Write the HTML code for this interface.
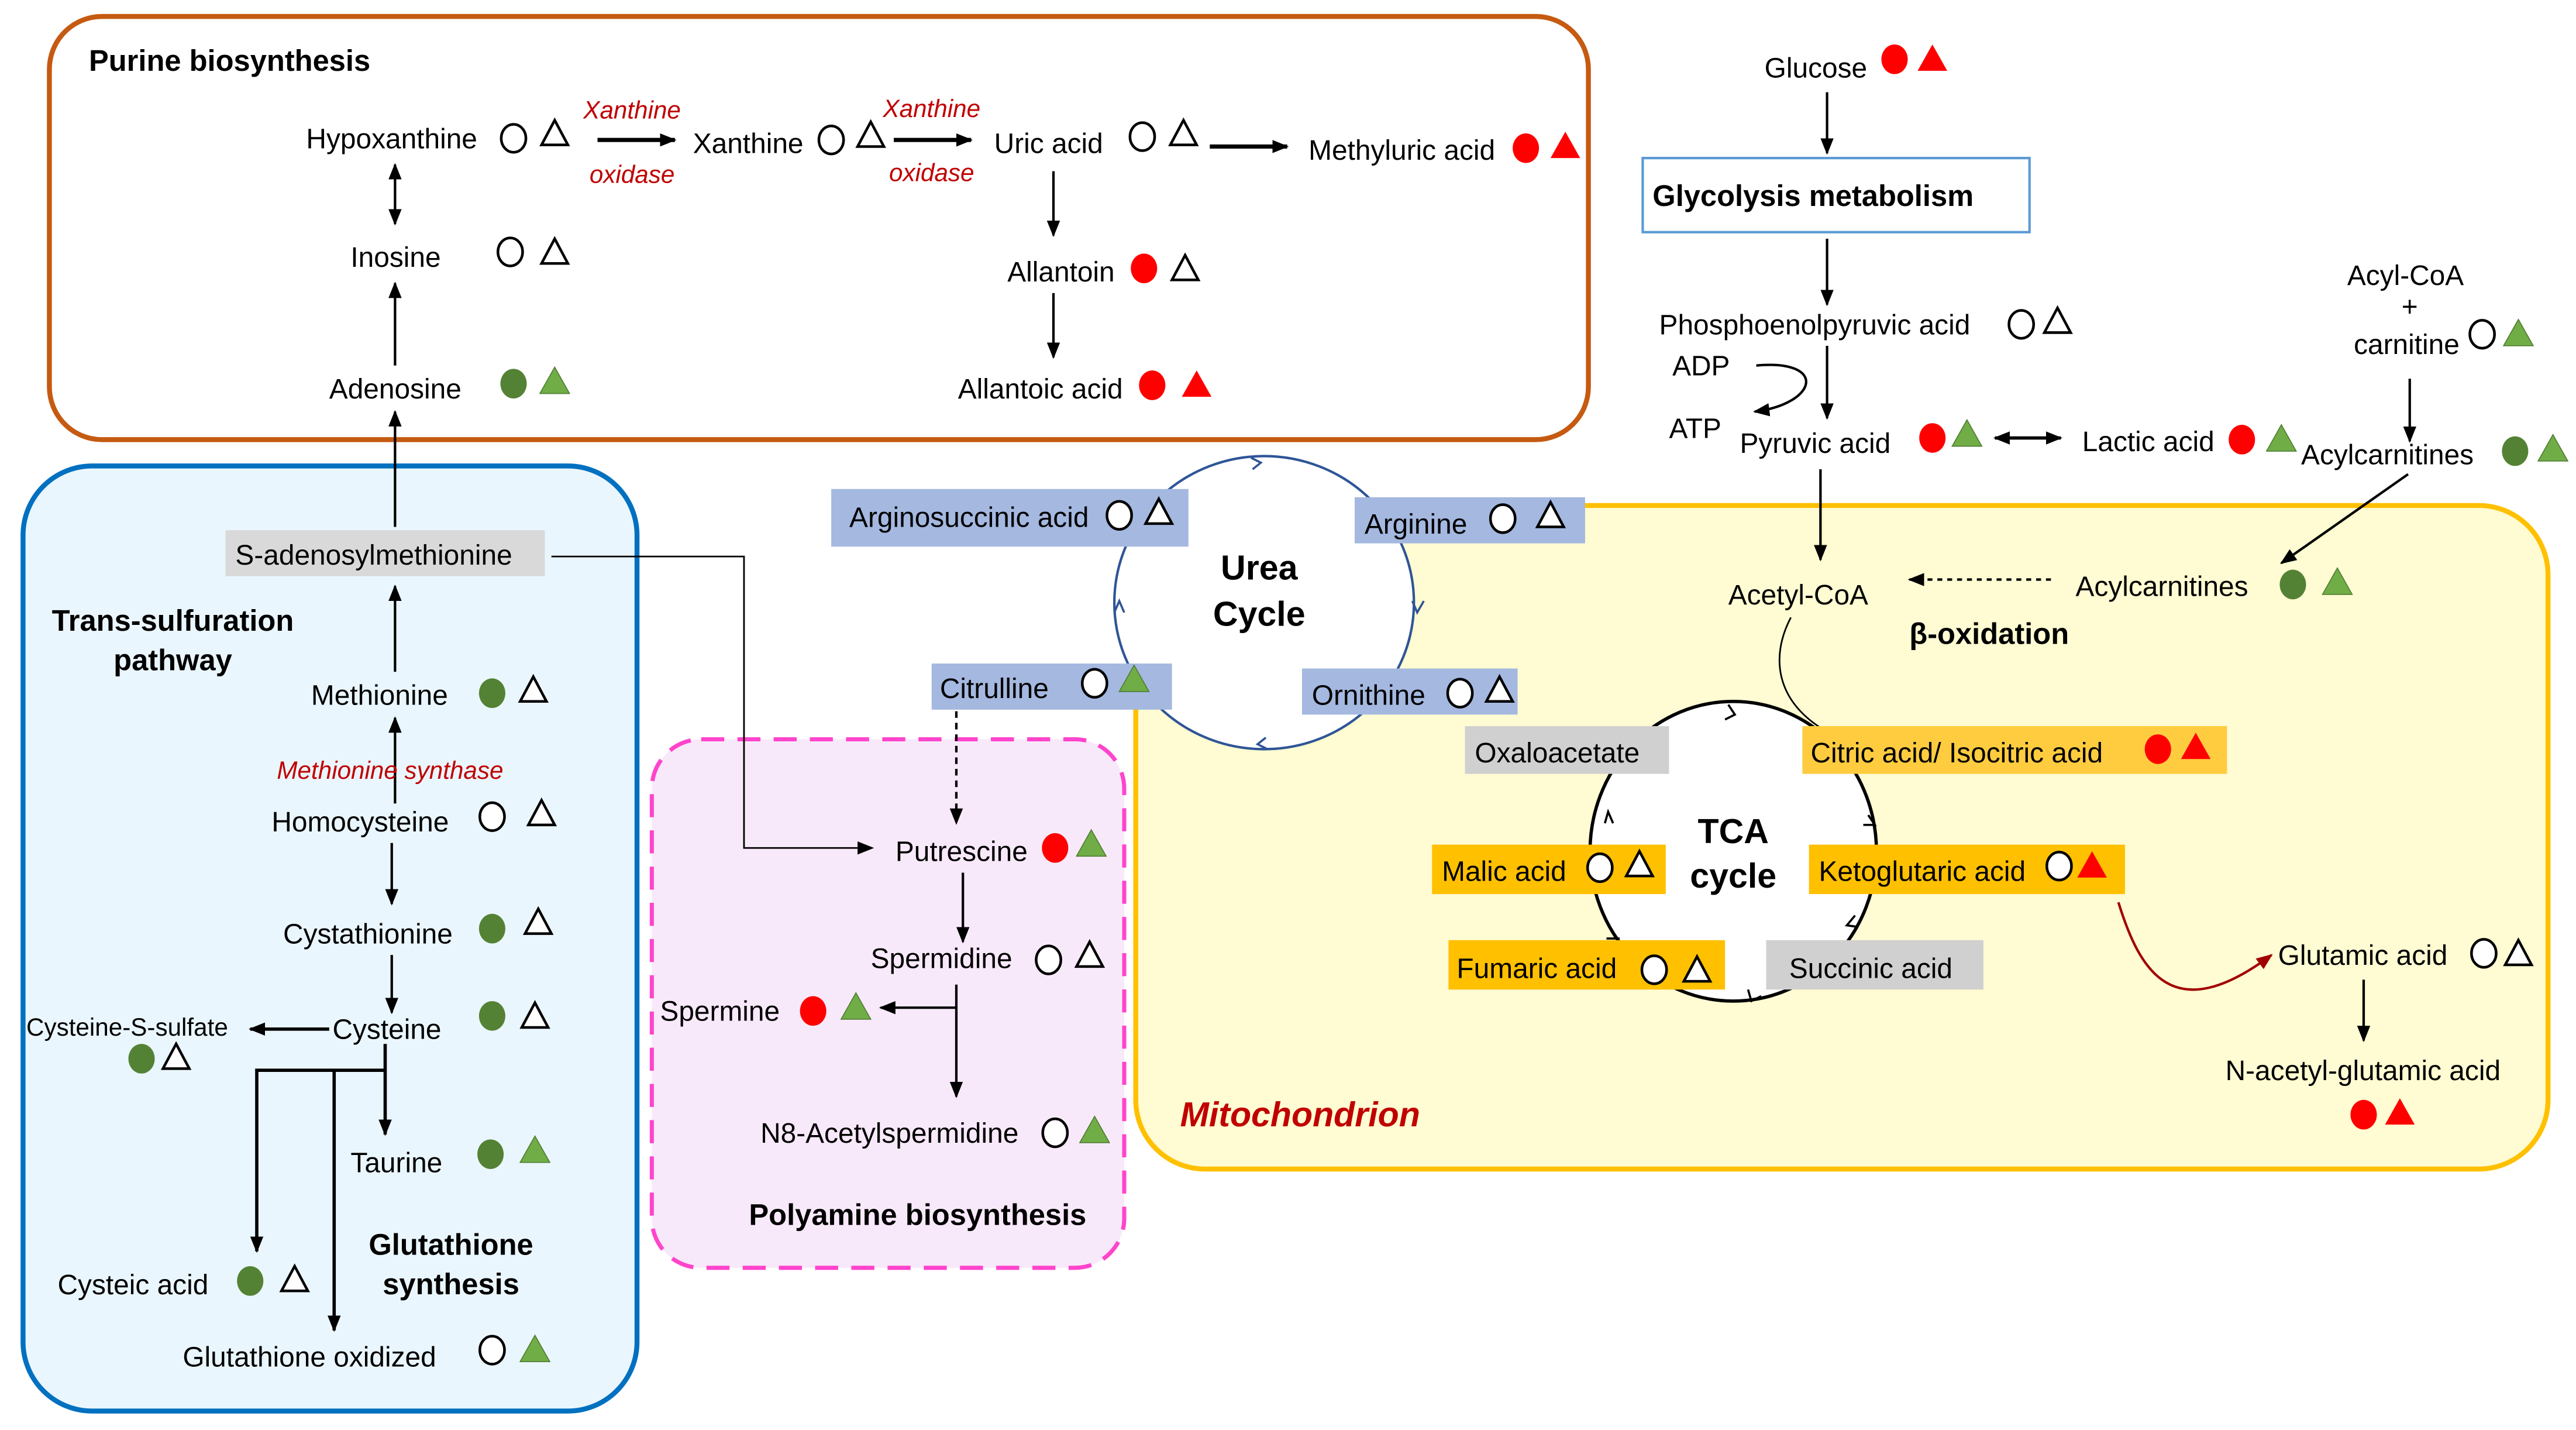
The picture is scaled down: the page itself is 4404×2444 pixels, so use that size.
<!DOCTYPE html>
<html><head><meta charset="utf-8"><style>
html,body{margin:0;padding:0;background:#fff;}
svg{display:block;}
text{font-family:"Liberation Sans",sans-serif;font-size:17px;fill:#000;}
.b{font-weight:bold;font-size:18px;}
.r{fill:#c00000;font-style:italic;font-size:15px;}
</style></head><body>
<svg width="4404" height="2444" viewBox="0 0 1565 868.5" xmlns="http://www.w3.org/2000/svg">
<defs>
<marker id="a" markerUnits="userSpaceOnUse" markerWidth="10" markerHeight="10" refX="9" refY="5" orient="auto"><path d="M0,1 L10,5 L0,9 z" fill="#000"/></marker>
<marker id="as" markerUnits="userSpaceOnUse" markerWidth="10" markerHeight="10" refX="1" refY="5" orient="auto"><path d="M10,1 L0,5 L10,9 z" fill="#000"/></marker>
<marker id="ar" markerUnits="userSpaceOnUse" markerWidth="10" markerHeight="10" refX="9" refY="5" orient="auto"><path d="M0,1 L10,5 L0,9 z" fill="#a00000"/></marker>
<g id="oc"><ellipse cx="0" cy="0" rx="7.5" ry="8.5" fill="#fff" stroke="#000" stroke-width="1.6"/></g>
<g id="gc"><ellipse cx="0" cy="0" rx="8" ry="9" fill="#548235"/></g>
<g id="rc"><ellipse cx="0" cy="0" rx="8" ry="9" fill="#ff0000"/></g>
<g id="ot"><path d="M0,-8 L8,7 L-8,7 z" fill="#fff" stroke="#000" stroke-width="1.6"/></g>
<g id="gt"><path d="M0,-9 L9,7 L-9,7 z" fill="#70ad47" stroke="#507e32" stroke-width="0.6"/></g>
<g id="rt"><path d="M0,-9 L9,7 L-9,7 z" fill="#ff0000"/></g>
</defs>

<!-- Purine box -->
<rect x="30" y="10" width="935" height="257" rx="32" fill="#fff" stroke="#c55a11" stroke-width="3"/>
<text x="54" y="43" class="b">Purine biosynthesis</text>
<text x="186" y="90">Hypoxanthine</text>
<use href="#oc" x="312" y="84"/><use href="#ot" x="337" y="81"/>
<line x1="363" y1="85" x2="410" y2="85" stroke="#000" stroke-width="2.5" marker-end="url(#a)"/>
<text x="384" y="72" class="r" text-anchor="middle">Xanthine</text>
<text x="384" y="111" class="r" text-anchor="middle">oxidase</text>
<text x="421" y="93">Xanthine</text>
<use href="#oc" x="505" y="85"/><use href="#ot" x="529" y="82"/>
<line x1="543" y1="85" x2="590" y2="85" stroke="#000" stroke-width="2.5" marker-end="url(#a)"/>
<text x="566" y="71" class="r" text-anchor="middle">Xanthine</text>
<text x="566" y="110" class="r" text-anchor="middle">oxidase</text>
<text x="604" y="93">Uric acid</text>
<use href="#oc" x="694" y="83"/><use href="#ot" x="719" y="81"/>
<line x1="735" y1="89" x2="782" y2="89" stroke="#000" stroke-width="2.5" marker-end="url(#a)"/>
<text x="795" y="97">Methyluric acid</text>
<use href="#rc" x="927" y="90"/><use href="#rt" x="951" y="89"/>
<line x1="240" y1="100" x2="240" y2="136" stroke="#000" stroke-width="1.5" marker-end="url(#a)" marker-start="url(#as)"/>
<text x="213" y="162">Inosine</text>
<use href="#oc" x="310" y="153"/><use href="#ot" x="337" y="153"/>
<line x1="240" y1="222" x2="240" y2="172" stroke="#000" stroke-width="1.5" marker-end="url(#a)"/>
<text x="200" y="242">Adenosine</text>
<use href="#gc" x="312" y="233"/><use href="#gt" x="337" y="232"/>
<line x1="640" y1="104" x2="640" y2="143" stroke="#000" stroke-width="1.5" marker-end="url(#a)"/>
<text x="612" y="171">Allantoin</text>
<use href="#rc" x="695" y="163"/><use href="#ot" x="720" y="163"/>
<line x1="640" y1="178" x2="640" y2="217" stroke="#000" stroke-width="1.5" marker-end="url(#a)"/>
<text x="582" y="242">Allantoic acid</text>
<use href="#rc" x="700" y="234"/><use href="#rt" x="727" y="234"/>

<!-- Blue box -->
<rect x="14" y="283" width="373" height="574" rx="42" fill="#eaf6fd" stroke="#0070c0" stroke-width="3"/>
<line x1="240" y1="320" x2="240" y2="250" stroke="#000" stroke-width="1.5" marker-end="url(#a)"/>
<rect x="137" y="322" width="194" height="28" fill="#d9d9d9"/>
<text x="143" y="343">S-adenosylmethionine</text>
<text x="105" y="383" class="b" text-anchor="middle">Trans-sulfuration</text>
<text x="105" y="407" class="b" text-anchor="middle">pathway</text>
<line x1="240" y1="408" x2="240" y2="356" stroke="#000" stroke-width="1.5" marker-end="url(#a)"/>
<text x="189" y="428">Methionine</text>
<use href="#gc" x="299" y="421"/><use href="#ot" x="324" y="419"/>
<line x1="240" y1="488" x2="240" y2="436" stroke="#000" stroke-width="1.5" marker-end="url(#a)"/>
<text x="237" y="473" class="r" text-anchor="middle">Methionine synthase</text>
<text x="165" y="505">Homocysteine</text>
<use href="#oc" x="299" y="496"/><use href="#ot" x="329" y="494"/>
<line x1="238" y1="512" x2="238" y2="549" stroke="#000" stroke-width="1.5" marker-end="url(#a)"/>
<text x="172" y="573">Cystathionine</text>
<use href="#gc" x="299" y="564"/><use href="#ot" x="327" y="560"/>
<line x1="238" y1="580" x2="238" y2="615" stroke="#000" stroke-width="1.5" marker-end="url(#a)"/>
<text x="202" y="631">Cysteine</text>
<use href="#gc" x="299" y="617"/><use href="#ot" x="325" y="617"/>
<line x1="200" y1="625" x2="152" y2="625" stroke="#000" stroke-width="2" marker-end="url(#a)"/>
<text x="16" y="629" style="font-size:15px">Cysteine-S-sulfate</text>
<use href="#gc" x="86" y="643"/><use href="#ot" x="107" y="642"/>
<polyline points="156,760 156,650 234,650" fill="none" stroke="#000" stroke-width="2" marker-start="url(#as)"/>
<line x1="234" y1="634" x2="234" y2="689" stroke="#000" stroke-width="2" marker-end="url(#a)"/>
<line x1="203" y1="650" x2="203" y2="808" stroke="#000" stroke-width="2" marker-end="url(#a)"/>
<text x="213" y="712">Taurine</text>
<use href="#gc" x="298" y="701"/><use href="#gt" x="325" y="699"/>
<text x="274" y="762" class="b" text-anchor="middle">Glutathione</text>
<text x="274" y="786" class="b" text-anchor="middle">synthesis</text>
<text x="35" y="786">Cysteic acid</text>
<use href="#gc" x="152" y="778"/><use href="#ot" x="179" y="777"/>
<text x="111" y="830">Glutathione oxidized</text>
<use href="#oc" x="299" y="820"/><use href="#gt" x="325" y="820"/>

<!-- Pink box -->
<rect x="396" y="449" width="287" height="321" rx="30" fill="#f8e9fa" stroke="#ff44cc" stroke-width="2.5" stroke-dasharray="14 8"/>
<polyline points="335,338 452,338 452,515 530,515" fill="none" stroke="#000" stroke-width="1" marker-end="url(#a)"/>
<line x1="581" y1="432" x2="581" y2="500" stroke="#000" stroke-width="1.5" stroke-dasharray="4 3" marker-end="url(#a)"/>
<text x="544" y="523">Putrescine</text>
<use href="#rc" x="641" y="515"/><use href="#gt" x="663" y="513"/>
<line x1="585" y1="530" x2="585" y2="572" stroke="#000" stroke-width="1.5" marker-end="url(#a)"/>
<text x="529" y="588">Spermidine</text>
<use href="#oc" x="637" y="583"/><use href="#ot" x="662" y="580"/>
<line x1="581" y1="598" x2="581" y2="666" stroke="#000" stroke-width="1.5" marker-end="url(#a)"/>
<line x1="581" y1="612" x2="535" y2="612" stroke="#000" stroke-width="1.5" marker-end="url(#a)"/>
<text x="401" y="620">Spermine</text>
<use href="#rc" x="494" y="614"/><use href="#gt" x="520" y="612"/>
<text x="462" y="694">N8-Acetylspermidine</text>
<use href="#oc" x="641" y="688"/><use href="#gt" x="665" y="687"/>
<text x="455" y="744" class="b">Polyamine biosynthesis</text>

<!-- Yellow box -->
<rect x="690" y="307" width="858" height="403" rx="42" fill="#fffbd2" stroke="#ffc000" stroke-width="3"/>
<text x="717" y="684" style="font-size:21px;font-weight:bold;font-style:italic;fill:#c00000">Mitochondrion</text>

<!-- Urea cycle -->
<ellipse cx="768" cy="366" rx="91" ry="89" fill="#fff" stroke="#2f5597" stroke-width="1.5"/>
<path d="M760,278 l6,3 l-5,4 M858,365 l3,7 l4,-7 M770,455 l-6,-3 l5,-4 M677,372 l3,-7 l3,7" fill="none" stroke="#2f5597" stroke-width="1.3"/>
<text x="765" y="352" class="b" text-anchor="middle" style="font-size:21px">Urea</text>
<text x="765" y="380" class="b" text-anchor="middle" style="font-size:21px">Cycle</text>
<rect x="505" y="297" width="217" height="35" fill="#a4b8e0"/>
<text x="516" y="320">Arginosuccinic acid</text>
<use href="#oc" x="680" y="313"/><use href="#ot" x="704" y="311"/>
<rect x="823" y="302" width="140" height="28" fill="#a4b8e0"/>
<text x="829" y="324">Arginine</text>
<use href="#oc" x="913" y="315"/><use href="#ot" x="942" y="313"/>
<rect x="566" y="403" width="146" height="28" fill="#a4b8e0"/>
<text x="571" y="424">Citrulline</text>
<use href="#oc" x="665" y="415"/><use href="#gt" x="689" y="413"/>
<rect x="791" y="406" width="131" height="28" fill="#a4b8e0"/>
<text x="797" y="428">Ornithine</text>
<use href="#oc" x="887" y="421"/><use href="#ot" x="911" y="419"/>

<!-- Glycolysis -->
<text x="1072" y="47">Glucose</text>
<use href="#rc" x="1151" y="36"/><use href="#rt" x="1174" y="36"/>
<line x1="1110" y1="56" x2="1110" y2="93" stroke="#000" stroke-width="1.5" marker-end="url(#a)"/>
<rect x="998" y="96" width="235" height="45" fill="#fff" stroke="#5b9bd5" stroke-width="1.5"/>
<text x="1004" y="125" class="b">Glycolysis metabolism</text>
<line x1="1110" y1="145" x2="1110" y2="185" stroke="#000" stroke-width="1.5" marker-end="url(#a)"/>
<text x="1008" y="203">Phosphoenolpyruvic acid</text>
<use href="#oc" x="1228" y="197"/><use href="#ot" x="1250" y="195"/>
<text x="1016" y="228">ADP</text>
<text x="1014" y="266">ATP</text>
<path d="M1067,222 C1110,218 1105,245 1066,250" fill="none" stroke="#000" stroke-width="1.5" marker-end="url(#a)"/>
<line x1="1110" y1="210" x2="1110" y2="254" stroke="#000" stroke-width="1.5" marker-end="url(#a)"/>
<text x="1057" y="275">Pyruvic acid</text>
<use href="#rc" x="1174" y="266"/><use href="#gt" x="1195" y="264"/>
<line x1="1212" y1="266" x2="1252" y2="266" stroke="#000" stroke-width="2" marker-end="url(#a)" marker-start="url(#as)"/>
<text x="1265" y="274">Lactic acid</text>
<use href="#rc" x="1362" y="267"/><use href="#gt" x="1386" y="267"/>
<text x="1426" y="173">Acyl-CoA</text>
<text x="1464" y="192" text-anchor="middle">+</text>
<text x="1430" y="215">carnitine</text>
<use href="#oc" x="1508" y="203"/><use href="#gt" x="1530" y="203"/>
<line x1="1464" y1="230" x2="1464" y2="268" stroke="#000" stroke-width="1.5" marker-end="url(#a)"/>
<text x="1398" y="282">Acylcarnitines</text>
<use href="#gc" x="1528" y="274"/><use href="#gt" x="1551" y="273"/>
<line x1="1463" y1="288" x2="1386" y2="342" stroke="#000" stroke-width="1.5" marker-end="url(#a)"/>
<line x1="1106" y1="285" x2="1106" y2="340" stroke="#000" stroke-width="1.5" marker-end="url(#a)"/>
<text x="1050" y="367">Acetyl-CoA</text>
<line x1="1246" y1="352" x2="1160" y2="352" stroke="#000" stroke-width="1.5" stroke-dasharray="3 3" marker-end="url(#a)"/>
<text x="1261" y="362">Acylcarnitines</text>
<use href="#gc" x="1393" y="355"/><use href="#gt" x="1420" y="354"/>
<text x="1160" y="391" class="b">β-oxidation</text>
<path d="M1088,375 C1075,400 1080,425 1106,442" fill="none" stroke="#000" stroke-width="1"/>

<!-- TCA -->
<ellipse cx="1053" cy="517" rx="87" ry="91" fill="#fff" stroke="#000" stroke-width="2"/>
<path d="M1050,428 l4,6 l-6,3 M1135,495 l4,6 l-7,0 M1127,556 l-5,6 l7,1 M1070,605 l-6,3 l-2,-7 M984,570 l-8,0 M975,500 l2,-7 l3,7" fill="none" stroke="#000" stroke-width="1.3"/>
<text x="1053" y="512" class="b" text-anchor="middle" style="font-size:21px">TCA</text>
<text x="1053" y="539" class="b" text-anchor="middle" style="font-size:21px">cycle</text>
<rect x="890" y="441" width="124" height="29" fill="#d0d0d0"/>
<text x="896" y="463">Oxaloacetate</text>
<rect x="1095" y="441" width="258" height="29" fill="#ffcc40"/>
<text x="1100" y="463">Citric acid/ Isocitric acid</text>
<use href="#rc" x="1311" y="455"/><use href="#rt" x="1334" y="454"/>
<rect x="870" y="513" width="142" height="30" fill="#ffc000"/>
<text x="876" y="535">Malic acid</text>
<use href="#oc" x="972" y="527"/><use href="#ot" x="996" y="525"/>
<rect x="1099" y="513" width="192" height="30" fill="#ffc000"/>
<text x="1105" y="535">Ketoglutaric acid</text>
<use href="#oc" x="1251" y="526"/><use href="#rt" x="1271" y="526"/>
<rect x="880" y="571" width="168" height="30" fill="#ffc000"/>
<text x="885" y="594">Fumaric acid</text>
<use href="#oc" x="1005" y="589"/><use href="#ot" x="1031" y="589"/>
<rect x="1073" y="571" width="132" height="30" fill="#d0d0d0"/>
<text x="1087" y="594">Succinic acid</text>
<path d="M1287,548 C1300,590 1320,625 1380,580" fill="none" stroke="#a00000" stroke-width="1.5" marker-end="url(#ar)"/>
<text x="1384" y="586">Glutamic acid</text>
<use href="#oc" x="1509" y="579"/><use href="#ot" x="1530" y="579"/>
<line x1="1436" y1="595" x2="1436" y2="632" stroke="#000" stroke-width="1.5" marker-end="url(#a)"/>
<text x="1352" y="656">N-acetyl-glutamic acid</text>
<use href="#rc" x="1436" y="677"/><use href="#rt" x="1458" y="676"/>
</svg>
</body></html>
